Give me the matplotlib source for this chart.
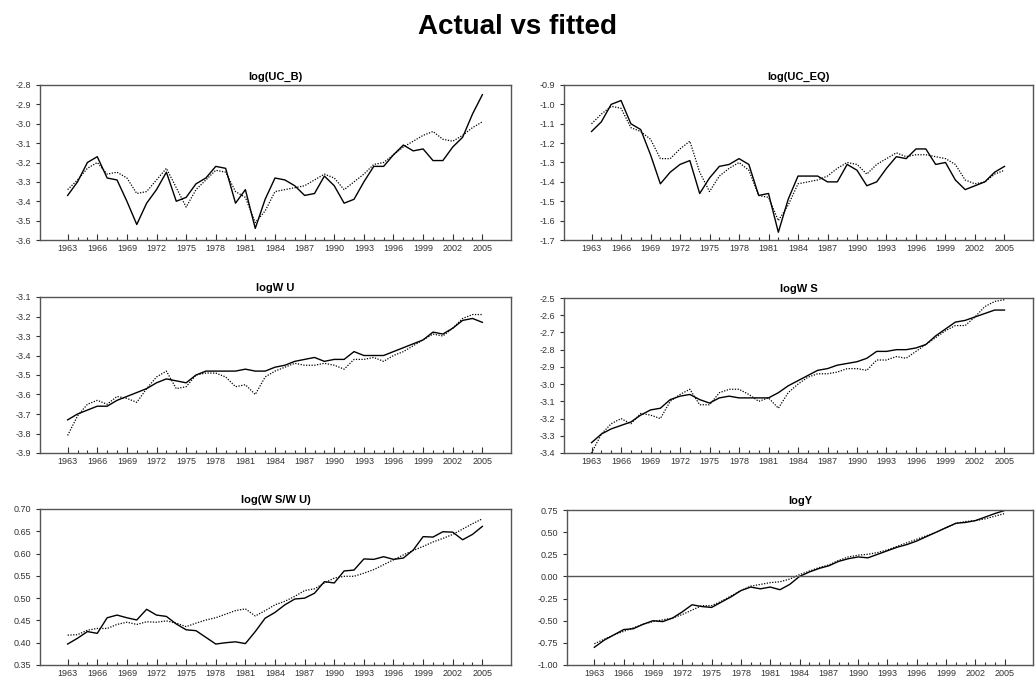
import matplotlib
matplotlib.use('Agg')
import matplotlib.pyplot as plt

plt.rcParams['font.family'] = ['Liberation Sans', 'DejaVu Sans']

years = list(range(1963, 2006))

# log(UC_B)
ucb_actual = [-3.37, -3.30, -3.20, -3.17, -3.28, -3.29, -3.40, -3.52, -3.41, -3.34,
              -3.25, -3.40, -3.38, -3.31, -3.28, -3.22, -3.23, -3.41, -3.34, -3.54,
              -3.39, -3.28, -3.29, -3.32, -3.37, -3.36, -3.27, -3.32, -3.41, -3.39,
              -3.30, -3.22, -3.22, -3.16, -3.11, -3.14, -3.13, -3.19, -3.19, -3.12,
              -3.07, -2.95, -2.85]
ucb_fitted = [-3.34, -3.29, -3.23, -3.20, -3.26, -3.25, -3.28, -3.36, -3.35, -3.29,
              -3.23, -3.33, -3.43, -3.34, -3.29, -3.24, -3.25, -3.35, -3.38, -3.51,
              -3.45, -3.35, -3.34, -3.33, -3.32, -3.29, -3.26, -3.28, -3.34, -3.30,
              -3.26, -3.21, -3.20, -3.16, -3.12, -3.09, -3.06, -3.04, -3.08, -3.09,
              -3.06, -3.02, -2.99]

# log(UC_EQ)
uceq_actual = [-1.14, -1.09, -1.00, -0.98, -1.10, -1.13, -1.26, -1.41, -1.35, -1.31,
               -1.29, -1.46, -1.38, -1.32, -1.31, -1.28, -1.31, -1.47, -1.46, -1.66,
               -1.49, -1.37, -1.37, -1.37, -1.40, -1.40, -1.31, -1.34, -1.42, -1.40,
               -1.33, -1.27, -1.28, -1.23, -1.23, -1.31, -1.30, -1.39, -1.44, -1.42,
               -1.40, -1.35, -1.32]
uceq_fitted = [-1.10, -1.05, -1.01, -1.02, -1.12, -1.14, -1.18, -1.28, -1.28, -1.23,
               -1.19, -1.35, -1.45, -1.37, -1.33, -1.30, -1.34, -1.47, -1.48, -1.60,
               -1.52, -1.41, -1.40, -1.39, -1.37, -1.33, -1.30, -1.31, -1.36, -1.31,
               -1.28, -1.25, -1.27, -1.26, -1.26, -1.27, -1.28, -1.31, -1.39, -1.41,
               -1.40, -1.36, -1.34]

# logW U
wu_actual = [-3.73, -3.70, -3.68, -3.66, -3.66, -3.63, -3.61, -3.59, -3.57, -3.54,
             -3.52, -3.53, -3.54, -3.50, -3.48, -3.48, -3.48, -3.48, -3.47, -3.48,
             -3.48, -3.46, -3.45, -3.43, -3.42, -3.41, -3.43, -3.42, -3.42, -3.38,
             -3.40, -3.40, -3.40, -3.38, -3.36, -3.34, -3.32, -3.28, -3.29, -3.26,
             -3.22, -3.21, -3.23]
wu_fitted = [-3.81, -3.71, -3.65, -3.63, -3.65, -3.61, -3.62, -3.64, -3.57, -3.51,
             -3.48, -3.57, -3.56, -3.50, -3.49, -3.49, -3.51, -3.56, -3.55, -3.60,
             -3.51, -3.48, -3.46, -3.44, -3.45, -3.45, -3.44, -3.45, -3.47, -3.42,
             -3.42, -3.41, -3.43, -3.40, -3.38, -3.35, -3.32, -3.29, -3.30, -3.26,
             -3.21, -3.19, -3.19]

# logW S
ws_actual = [-3.34, -3.29, -3.26, -3.24, -3.22, -3.18, -3.15, -3.14, -3.09, -3.07,
             -3.06, -3.09, -3.11, -3.08, -3.07, -3.08, -3.08, -3.08, -3.08, -3.05,
             -3.01, -2.98, -2.95, -2.92, -2.91, -2.89, -2.88, -2.87, -2.85, -2.81,
             -2.81, -2.80, -2.80, -2.79, -2.77, -2.72, -2.68, -2.64, -2.63, -2.61,
             -2.59, -2.57, -2.57]
ws_fitted = [-3.40, -3.29, -3.23, -3.20, -3.23, -3.17, -3.18, -3.20, -3.10, -3.06,
             -3.03, -3.12, -3.12, -3.05, -3.03, -3.03, -3.06, -3.10, -3.08, -3.14,
             -3.05, -3.00, -2.96, -2.94, -2.94, -2.93, -2.91, -2.91, -2.92, -2.86,
             -2.86, -2.84, -2.85, -2.81, -2.77, -2.73, -2.69, -2.66, -2.66, -2.61,
             -2.55, -2.52, -2.51]

# log(W S/W U)
ratio_actual = [0.397, 0.410, 0.425, 0.421, 0.456, 0.462, 0.456, 0.451, 0.475, 0.462,
                0.459, 0.442, 0.429, 0.427, 0.412, 0.397, 0.400, 0.402, 0.398, 0.425,
                0.455, 0.468, 0.485, 0.498, 0.500, 0.511, 0.537, 0.534, 0.561, 0.563,
                0.588, 0.587, 0.593, 0.587, 0.590, 0.608, 0.638, 0.637, 0.649, 0.648,
                0.631, 0.643, 0.661]
ratio_fitted = [0.417, 0.418, 0.428, 0.432, 0.432, 0.441, 0.446, 0.441, 0.447, 0.446,
                0.449, 0.444, 0.436, 0.444, 0.451, 0.456, 0.464, 0.472, 0.476, 0.460,
                0.472, 0.485, 0.493, 0.504, 0.517, 0.521, 0.534, 0.545, 0.549, 0.549,
                0.556, 0.564, 0.575, 0.586, 0.597, 0.607, 0.616, 0.626, 0.634, 0.643,
                0.655, 0.667, 0.678]

# logY
y_actual = [-0.80, -0.72, -0.66, -0.60, -0.59, -0.54, -0.50, -0.51, -0.47, -0.40,
            -0.32, -0.34, -0.35, -0.29, -0.23, -0.16, -0.12, -0.14, -0.12, -0.15,
            -0.09, 0.00, 0.05, 0.09, 0.12, 0.17, 0.20, 0.22, 0.21, 0.25,
            0.29, 0.33, 0.36, 0.40, 0.45, 0.50, 0.55, 0.60, 0.61, 0.63,
            0.67, 0.71, 0.745]
y_fitted = [-0.76, -0.71, -0.66, -0.62, -0.58, -0.54, -0.51, -0.49, -0.47, -0.43,
            -0.38, -0.33, -0.33, -0.28, -0.22, -0.16, -0.11, -0.09, -0.07, -0.06,
            -0.03, 0.02, 0.06, 0.10, 0.13, 0.18, 0.22, 0.24, 0.25, 0.27,
            0.30, 0.34, 0.38, 0.42, 0.46, 0.50, 0.55, 0.60, 0.62, 0.63,
            0.65, 0.68, 0.71]

panels = [
    ('log(UC_B)', ucb_actual, ucb_fitted, (-3.6, -2.8), [-3.6 + 0.1 * i for i in range(9)], '%.1f'),
    ('log(UC_EQ)', uceq_actual, uceq_fitted, (-1.7, -0.9), [-1.7 + 0.1 * i for i in range(9)], '%.1f'),
    ('logW U', wu_actual, wu_fitted, (-3.9, -3.1), [-3.9 + 0.1 * i for i in range(9)], '%.1f'),
    ('logW S', ws_actual, ws_fitted, (-3.4, -2.5), [-3.4 + 0.1 * i for i in range(10)], '%.1f'),
    ('log(W S/W U)', ratio_actual, ratio_fitted, (0.35, 0.70), [0.35 + 0.05 * i for i in range(8)], '%.2f'),
    ('logY', y_actual, y_fitted, (-1.0, 0.75), [-1.0 + 0.25 * i for i in range(8)], '%.2f'),
]

# axes boxes in pixels: left, top, right, bottom
W, H = 1035, 682
boxes = [
    (40, 85, 511, 240), (564, 85, 1033, 240),
    (40, 297, 511, 453), (564, 298, 1033, 453),
    (40, 509, 511, 665), (567, 510, 1033, 665),
]

fig = plt.figure(figsize=(W / 100, H / 100), dpi=100)
fig.text(0.5, 1 - 27 / H, 'Actual vs fitted', ha='center', va='center',
         fontsize=20, fontweight='bold')

frame = '#555555'
for (title, act, fit, ylim, yticks, fmt), (l, t, r, b) in zip(panels, boxes):
    ax = fig.add_axes([l / W, 1 - b / H, (r - l) / W, (b - t) / H])
    ax.plot(years, act, color='black', lw=1.0)
    ax.plot(years, fit, color='black', lw=0.9, ls=(0, (1, 1.2)))
    if title == 'logY':
        ax.axhline(0, color=frame, lw=1.0)
    ax.set_xlim(1960.2, 2007.9)
    ax.set_ylim(*ylim)
    ax.set_yticks(yticks)
    ax.set_yticklabels([fmt % v for v in yticks])
    ax.set_xticks(years[::3])
    ax.set_xticks(years, minor=True)
    ax.tick_params(axis='both', labelsize=6.5, colors='#333333', length=3, width=0.8)
    ax.tick_params(axis='x', which='major', direction='in', length=4, pad=3)
    ax.tick_params(axis='x', which='minor', direction='in', length=2.5, width=0.8,
                   colors='#333333')
    for s in ax.spines.values():
        s.set_color(frame)
        s.set_linewidth(1.0)
    ax.set_title(title, fontsize=8, fontweight='bold', pad=4)

fig.savefig('out.png', dpi=100)
